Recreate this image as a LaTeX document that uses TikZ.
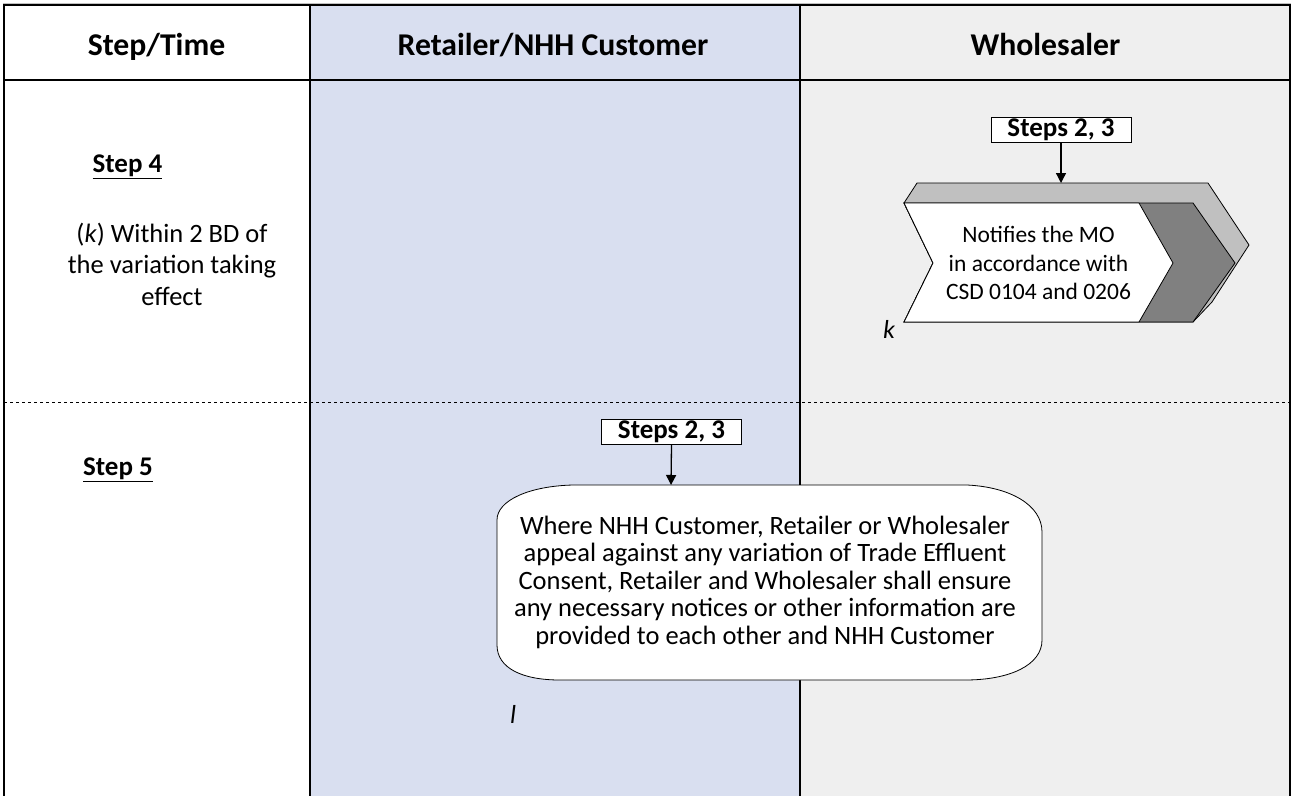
\documentclass[tikz,border=0pt]{standalone}
\usepackage{fontspec}
\setmainfont{Carlito}
\usetikzlibrary{arrows.meta}
\definecolor{laneblue}{HTML}{D9DFF0}
\definecolor{lanegray}{HTML}{EFEFEF}
\definecolor{topgray}{HTML}{C0C0C0}
\definecolor{sidegray}{HTML}{808080}
\tikzset{
  body/.style={font=\fontsize{26.5}{31.5}\selectfont, align=center, inner sep=0pt},
  header/.style={font=\fontsize{31.7}{36}\selectfont\bfseries, inner sep=0pt, anchor=base},
  steplabel/.style={font=\fontsize{27}{32}\selectfont\bfseries, inner sep=0pt},
  refbox/.style={draw=black, fill=white, line width=0.8pt, font=\fontsize{27}{30}\selectfont\bfseries, minimum width=140pt, minimum height=25pt, inner sep=0pt},
  flowarrow/.style={-{Triangle[length=10pt,width=10pt]}, line width=1.3pt},
  lanerule/.style={line width=1.5pt, black},
  marklabel/.style={font=\fontsize{26}{30}\selectfont\itshape, inner sep=0pt},
}
\begin{document}
\begin{tikzpicture}[x=1pt,y=-1pt]
\useasboundingbox (0,0) rectangle (1292,796);
% lanes
\fill[white] (3,4) rectangle (310,796);
\fill[laneblue] (310,4) rectangle (800,796);
\fill[lanegray] (800,4) rectangle (1290,796);
% rules
\draw[topgray, line width=1pt] (3,3) -- (1291,3);
\draw[lanerule, line width=2pt] (3,5) -- (1290,5);
\draw[lanerule, line width=2pt] (4,4) -- (4,796);
\draw[lanerule, line width=2pt] (1290,4) -- (1290,796);
\draw[lanerule] (310,4) -- (310,796);
\draw[lanerule] (800,4) -- (800,796);
\draw[lanerule, line width=2pt] (3,80) -- (1290,80);
\draw[dashed, line width=0.8pt] (4,402) -- (1290,402);
% headers
\node[header] (h1) at (156.5,55) {Step/Time};
\node[header] (h2) at (553,55) {Retailer/NHH Customer};
\node[header] (h3) at (1045.5,55) {Wholesaler};
% step labels
\node[steplabel] (s4) at (127.5,167) {\underline{Step 4}};
\node[body] (s4t) at (172,264) {(\textit{k}) Within 2 BD of\\the variation taking\\effect};
\node[steplabel] (s5) at (118,470) {\underline{Step 5}};
% chevron (3D)
\filldraw[fill=topgray, draw=black, line width=0.8pt]
  (917,183) -- (1208,183) -- (1249,245) -- (1212,302) -- (1193,322) -- (904,322) -- (933,263) -- (904,203) -- cycle;
\filldraw[fill=sidegray, draw=black, line width=0.8pt]
  (904,203) -- (1193,203) -- (1235,263) -- (1193,322) -- (904,322) -- (933,263) -- cycle;
\filldraw[fill=white, draw=black, line width=0.8pt]
  (904,203) -- (1139,203) -- (1173,263) -- (1139,322) -- (904,322) -- (933,263) -- cycle;
\coordinate (chevtop) at (1061,183);
\node[body, font=\fontsize{23.5}{28.5}\selectfont] (notify) at (1038.5,263) {Notifies the MO\\in accordance with\\CSD 0104 and 0206};
\node[marklabel] (klab) at (889,329) {k};
\node[refbox] (r1) at (1061,129.5) {Steps 2, 3};
\draw[flowarrow] (r1.south) -- (chevtop);
% rounded box
\draw[fill=white, line width=0.8pt]
  (573,485) -- (967,485)
  .. controls (1010,487) and (1042,505) .. (1042,532)
  -- (1042,640)
  .. controls (1042,665) and (1010,680) .. (965,680)
  -- (560,680)
  .. controls (522,680) and (497,668) .. (497,645)
  -- (497,520)
  .. controls (497,500) and (530,486) .. (573,485) -- cycle;
\node[body, font=\fontsize{26.5}{27.5}\selectfont] (appeal) at (765,582) {Where NHH Customer, Retailer or Wholesaler\\appeal against any variation of Trade Effluent\\Consent, Retailer and Wholesaler shall ensure\\any necessary notices or other information are\\provided to each other and NHH Customer};
\coordinate (boxtop) at (671,485);
\node[refbox] (r2) at (671.5,432) {Steps 2, 3};
\draw[flowarrow] (r2.south) -- (boxtop);
\node[marklabel] (llab) at (513,714) {l};
\end{tikzpicture}
\end{document}
